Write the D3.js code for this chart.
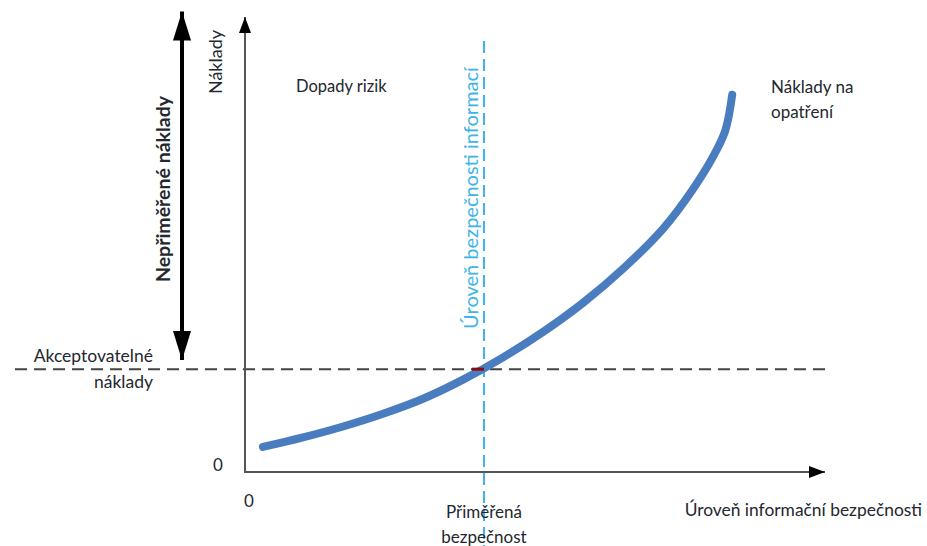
<!DOCTYPE html>
<html><head><meta charset="utf-8">
<script src="https://cdn.jsdelivr.net/npm/d3@7"></script>
<style>body{margin:0;background:#fff}svg{display:block}text{font-family:Lato,"Open Sans",sans-serif;fill:#23272e}</style>
</head><body><svg id="c" width="927" height="546"></svg>
<script>
// Curve "Náklady na opatření": security level (x) vs cost (y)
const curveX = [3.1, 10.0, 16.9, 23.8, 30.7, 37.6, 44.5, 51.4, 58.3, 65.2, 72.1, 77.2, 80.7, 82.8, 84.0];
const curveY = [5.5, 7.6, 10.0, 12.8, 16.1, 20.3, 25.2, 30.8, 37.2, 44.7, 53.5, 62.1, 69.3, 75.0, 82.9];
const acceptableCost = 22.6;
const adequateSecurity = 41.2;
const disproportionate = [24.6, 101.2];
const labels = {
  yAxis: "Náklady",
  xAxis: "Úroveň informační bezpečnosti",
  risk: "Dopady rizik",
  measures: ["Náklady na", "opatření"],
  acceptable: ["Akceptovatelné", "náklady"],
  adequate: ["Přiměřená", "bezpečnost"],
  level: "Úroveň bezpečnosti informací",
  disp: "Nepřiměřené náklady",
  zero: "0"
};

const svg = d3.select("#c");
const x = d3.scaleLinear().domain([0, 100]).range([245, 825]);
const y = d3.scaleLinear().domain([0, 100]).range([472, 17]);

const defs = svg.append("defs");
function marker(id, w, h, color) {
  defs.append("marker").attr("id", id).attr("viewBox", `0 0 ${w} ${h}`)
    .attr("refX", w).attr("refY", h / 2).attr("markerWidth", w).attr("markerHeight", h)
    .attr("markerUnits", "userSpaceOnUse").attr("orient", "auto-start-reverse")
    .append("path").attr("d", `M0,0L${w},${h/2}L0,${h}Z`).attr("fill", color);
}
marker("ax", 16, 12, "#000");
marker("big", 29, 18, "#000");

// horizontal dashed (acceptable cost)
svg.append("line").attr("x1", 15).attr("x2", x(100)).attr("y1", y(acceptableCost)).attr("y2", y(acceptableCost))
  .attr("stroke", "#444").attr("stroke-width", 2).attr("stroke-dasharray", "12,7");

// vertical dashed blue
svg.append("line").attr("x1", x(adequateSecurity)).attr("x2", x(adequateSecurity)).attr("y1", 41).attr("y2", 546)
  .attr("stroke", "#3cb4ea").attr("stroke-width", 2).attr("stroke-dasharray", "12,6");

// axes
svg.append("line").attr("x1", x(0)).attr("y1", y(0)).attr("x2", x(0)).attr("y2", y(100))
  .attr("stroke", "#555").attr("stroke-width", 2).attr("marker-end", "url(#ax)");
svg.append("line").attr("x1", x(0) - 1).attr("y1", y(0)).attr("x2", x(100)).attr("y2", y(0))
  .attr("stroke", "#555").attr("stroke-width", 2).attr("marker-end", "url(#ax)");

// curve
const pts = curveX.map((v, i) => [v, curveY[i]]);
svg.append("path").datum(pts)
  .attr("d", d3.line().x(d => x(d[0])).y(d => y(d[1])).curve(d3.curveCatmullRom.alpha(0.5)))
  .attr("fill", "none").attr("stroke", "#4a7dbf").attr("stroke-width", 8).attr("stroke-linecap", "round");

// dark red mark
svg.append("line").attr("x1", x(adequateSecurity) - 12).attr("x2", x(adequateSecurity)).attr("y1", y(acceptableCost)).attr("y2", y(acceptableCost))
  .attr("stroke", "#8b0a0a").attr("stroke-width", 3);

// big double arrow
svg.append("line").attr("x1", 182).attr("x2", 182).attr("y1", y(disproportionate[0])).attr("y2", y(disproportionate[1]))
  .attr("stroke", "#000").attr("stroke-width", 4)
  .attr("marker-start", "url(#big)").attr("marker-end", "url(#big)");

// texts
const fs = 17;
svg.append("text").attr("transform", "translate(222,62) rotate(-90)").attr("text-anchor", "middle")
  .attr("font-size", 18).text(labels.yAxis);
svg.append("text").attr("transform", "translate(170,189) rotate(-90)").attr("text-anchor", "middle")
  .attr("font-size", 19.5).attr("font-weight", "bold").text(labels.disp);
svg.append("text").attr("transform", `translate(478,198) rotate(-90)`).attr("text-anchor", "middle")
  .attr("font-size", 20).style("fill", "#3cb4ea").text(labels.level);
svg.append("text").attr("x", 296).attr("y", 92).attr("font-size", 16.5).text(labels.risk);
svg.append("text").attr("x", 771).attr("y", 93).attr("font-size", fs).text(labels.measures[0]);
svg.append("text").attr("x", 771).attr("y", 118).attr("font-size", fs).text(labels.measures[1]);
svg.append("text").attr("x", 153).attr("y", 362).attr("text-anchor", "end").attr("font-size", 17.5).text(labels.acceptable[0]);
svg.append("text").attr("x", 153).attr("y", 388).attr("text-anchor", "end").attr("font-size", 17.5).text(labels.acceptable[1]);
svg.append("text").attr("x", 218).attr("y", 471).attr("text-anchor", "middle").attr("font-size", fs).text(labels.zero);
svg.append("text").attr("x", 249).attr("y", 507).attr("text-anchor", "middle").attr("font-size", fs).text(labels.zero);
svg.append("text").attr("x", x(adequateSecurity)).attr("y", 518).attr("text-anchor", "middle").attr("font-size", fs).text(labels.adequate[0]);
svg.append("text").attr("x", x(adequateSecurity)).attr("y", 543).attr("text-anchor", "middle").attr("font-size", fs).text(labels.adequate[1]);
svg.append("text").attr("x", 922).attr("y", 516).attr("text-anchor", "end").attr("font-size", 17.4).text(labels.xAxis);
</script></body></html>
